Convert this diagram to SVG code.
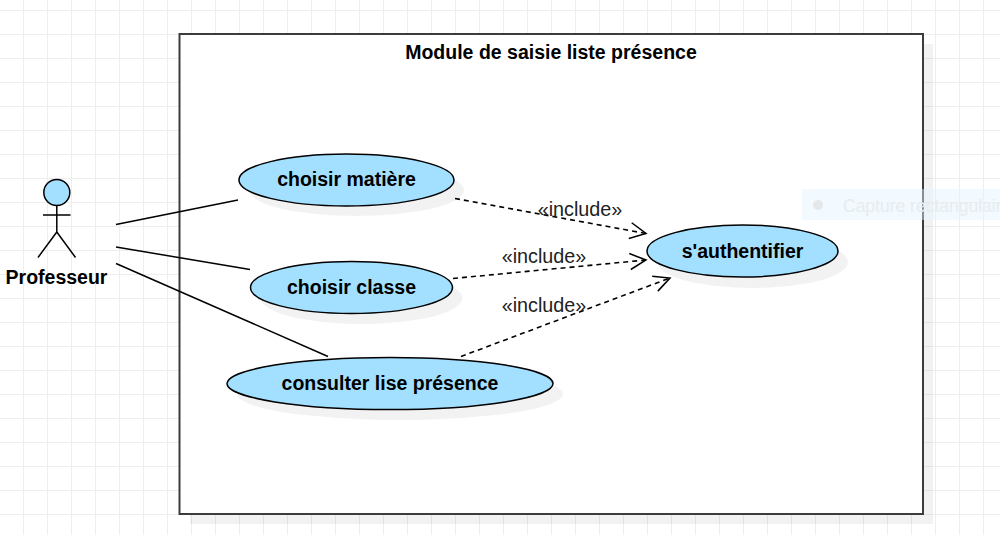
<svg xmlns="http://www.w3.org/2000/svg" width="1000" height="535" viewBox="0 0 1000 535">
<style>
.t{font-family:"Liberation Sans",Arial,sans-serif;font-size:19.5px;font-weight:bold;fill:#000;text-anchor:middle}
.inc{font-family:"Liberation Sans",Arial,sans-serif;font-size:19.8px;fill:#222;text-anchor:middle}
.uc{fill:#a3dfff;stroke:#000;stroke-width:1.5}
.sh{fill:#000;fill-opacity:.05}
.l{fill:none;stroke:#000;stroke-width:1.5}
.d{fill:none;stroke:#000;stroke-width:1.6;stroke-dasharray:5 4}
</style>
<defs>
<marker id="open" markerUnits="userSpaceOnUse" markerWidth="20" markerHeight="20" refX="16" refY="8" orient="auto" overflow="visible"><path d="M0 0L16 8L0 16" fill="none" stroke="#000" stroke-width="1.5"/></marker>
<pattern id="grid" width="24" height="24" patternUnits="userSpaceOnUse" x="-1" y="10"><path d="M0 0.5H24M0.5 0V24" fill="none" stroke="#eeeeee" stroke-width="1"/></pattern>
</defs>
<rect width="1000" height="535" fill="#fff"/>
<rect width="1000" height="535" fill="url(#grid)"/>
<g id="system">
<rect class="sh" x="190" y="44" width="743" height="480"/>
<rect x="179.500" y="34" width="743.500" height="480" fill="#fff" stroke="#3c3c3c" stroke-width="2"/>
<text class="t" x="551" y="58.500">Module de saisie liste présence</text>
</g>
<g id="connectors">
<path class="l" d="M116 224.500L238 200"/>
<path class="l" d="M116 247L250 269.500"/>
<path class="l" d="M116 263.500L328 356.500"/>
<path class="d" d="M455 198.500L646 233.500" marker-end="url(#open)"/>
<path class="d" d="M453 278.500L646 260" marker-end="url(#open)"/>
<path class="d" d="M461 356.500L670 278" marker-end="url(#open)"/>
</g>
<g id="actor">
<circle cx="56.800" cy="192.500" r="13" fill="#a3dfff" stroke="#000" stroke-width="1.500"/>
<path class="l" d="M56.800 205.500V232M43 215H70.500M56.800 232L38 257.500M56.800 232L75.500 257.500"/>
<text class="t" x="56.500" y="284">Professeur</text>
</g>
<g id="uc-matiere">
<ellipse class="sh" cx="356.500" cy="190" rx="107.500" ry="26"/>
<ellipse class="uc" cx="346.500" cy="180" rx="107.500" ry="26"/>
<text class="t" x="346.500" y="186">choisir matière</text>
</g>
<g id="uc-classe">
<ellipse class="sh" cx="361.500" cy="298" rx="101" ry="26"/>
<ellipse class="uc" cx="351.500" cy="287.500" rx="101" ry="26"/>
<text class="t" x="351.500" y="293.500">choisir classe</text>
</g>
<g id="uc-consulter">
<ellipse class="sh" cx="400" cy="394" rx="163" ry="26"/>
<ellipse class="uc" cx="390" cy="383.500" rx="163" ry="26"/>
<text class="t" x="390" y="389.500">consulter lise présence</text>
</g>
<g id="uc-auth">
<ellipse class="sh" cx="752.500" cy="262" rx="95.500" ry="26"/>
<ellipse class="uc" cx="742.500" cy="251" rx="95.500" ry="26"/>
<text class="t" x="742.500" y="257.500">s'authentifier</text>
</g>
<g id="labels">
<text class="inc" x="580" y="216">«include»</text>
<text class="inc" x="544" y="263">«include»</text>
<text class="inc" x="544" y="312">«include»</text>
</g>
<g id="ghost">
<rect x="802" y="189" width="198" height="31" fill="#e3f2ff" fill-opacity=".45"/>
<circle cx="818" cy="205" r="5" fill="#e0e0e0" fill-opacity=".7"/>
<text x="843" y="212" font-family="'Liberation Sans',Arial,sans-serif" font-size="17.500" fill="#e8ecee">Capture rectangulair</text>
</g>
</svg>
